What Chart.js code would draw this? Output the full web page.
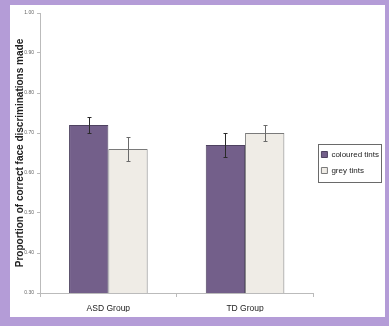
<!DOCTYPE html>
<html>
<head>
<meta charset="utf-8">
<script src="https://cdn.jsdelivr.net/npm/chart.js"></script>
<style>
html, body { margin: 0; padding: 0; background: #b49cd7; }
#wrap { position: relative; width: 389px; height: 326px; }
#panel { position: absolute; left: 10px; top: 5px; width: 375px; height: 312px; background: #fff; }
canvas { position: absolute; left: 0; top: 0; }
</style>
</head>
<body>
<div id="wrap"><div id="panel"></div><canvas id="myChart" width="389" height="326"></canvas></div>
<script>
// datos
var etiquetas = ['ASD Group', 'TD Group'];
var coloreados = [0.72, 0.67];
var coloreadosErr = [0.02, 0.03];
var grises = [0.66, 0.70];
var grisesErr = [0.03, 0.02];
var ticksY = [0.30, 0.40, 0.50, 0.60, 0.70, 0.80, 0.90, 1.00];

var fuente = 'Liberation Sans, Arial, sans-serif';

// barras de error
var barrasError = {
    id: 'barrasError',
    afterDatasetsDraw: function (chart) {
        var ctx = chart.ctx;
        var y = chart.scales.y;
        chart.data.datasets.forEach(function (ds, i) {
            var meta = chart.getDatasetMeta(i);
            meta.data.forEach(function (bar, j) {
                var v = ds.data[j], e = ds.errores[j];
                var arriba = Math.round(y.getPixelForValue(v + e)) + 0.5;
                var abajo = Math.round(y.getPixelForValue(v - e)) + 0.5;
                var x = Math.round(bar.x) + 0.5;
                ctx.save();
                ctx.strokeStyle = ds.colorError;
                ctx.lineWidth = 1;
                ctx.beginPath();
                ctx.moveTo(x, arriba); ctx.lineTo(x, abajo);
                ctx.moveTo(x - 2, arriba); ctx.lineTo(x + 2, arriba);
                ctx.moveTo(x - 2, abajo); ctx.lineTo(x + 2, abajo);
                ctx.stroke();
                ctx.restore();
            });
        });
    }
};

// recuadro de la leyenda
var marcoLeyenda = {
    id: 'marcoLeyenda',
    afterDraw: function (chart) {
        var cajas = chart.legend.legendHitBoxes;
        if (!cajas || !cajas.length) return;
        var x1 = 1e9, y1 = 1e9, x2 = -1e9, y2 = -1e9;
        cajas.forEach(function (c) {
            x1 = Math.min(x1, c.left); y1 = Math.min(y1, c.top);
            x2 = Math.max(x2, c.left + c.width); y2 = Math.max(y2, c.top + c.height);
        });
        var ctx = chart.ctx;
        ctx.save();
        ctx.strokeStyle = '#6a6a6a';
        ctx.lineWidth = 1;
        ctx.strokeRect(Math.round(x1 - 3) + 0.5, Math.round(y1 - 7) + 0.5, Math.round(x2 - x1 + 5), Math.round(y2 - y1 + 14));
        ctx.restore();
    }
};

var ctx = document.getElementById('myChart');
var myChart = new Chart(ctx, {
    type: 'bar',
    data: {
        labels: etiquetas,
        datasets: [{
            label: 'coloured tints',
            data: coloreados,
            errores: coloreadosErr,
            colorError: '#2a2a2a',
            backgroundColor: '#735f8a',
            borderColor: '#4e4260',
            borderWidth: 1
        }, {
            label: 'grey tints',
            data: grises,
            errores: grisesErr,
            colorError: '#6a6a6a',
            backgroundColor: '#efece6',
            borderColor: '#7a7a7a',
            borderWidth: 1
        }]
    },
    plugins: [barrasError, marcoLeyenda],
    options: {
        responsive: false,
        animation: false,
        layout: { padding: { left: 12, top: 13, right: 0, bottom: 14 } },
        datasets: { bar: { barPercentage: 1, categoryPercentage: 0.575 } },
        plugins: {
            tooltip: { enabled: false },
            legend: {
                position: 'right',
                labels: {
                    boxWidth: 6,
                    boxHeight: 6,
                    padding: 8,
                    color: '#222',
                    font: { family: fuente, size: 8, lineHeight: 1.375 }
                }
            }
        },
        scales: {
            x: {
                afterFit: function (scale) { scale.height = 19; },
                grid: { display: true, drawOnChartArea: false, tickLength: 4, color: '#bbb' },
                border: { color: '#bbb' },
                ticks: { color: '#222', padding: 7, font: { family: fuente, size: 8.5 } }
            },
            y: {
                min: 0.3,
                max: 1.0,
                afterFit: function (scale) { scale.width = 28; },
                afterBuildTicks: function (scale) {
                    scale.ticks = ticksY.map(function (v) { return { value: v }; });
                },
                grid: { display: true, drawOnChartArea: false, tickLength: 3, color: '#bbb' },
                border: { color: '#bbb' },
                ticks: {
                    color: '#666',
                    padding: 3,
                    font: { family: fuente, size: 5 },
                    callback: function (v) { return Number(v).toFixed(2); }
                },
                title: {
                    display: true,
                    text: 'Proportion of correct face discriminations made',
                    color: '#222',
                    font: { family: fuente, size: 10, weight: 'bold' },
                    padding: 2
                }
            }
        }
    }
});
</script>
</body>
</html>
